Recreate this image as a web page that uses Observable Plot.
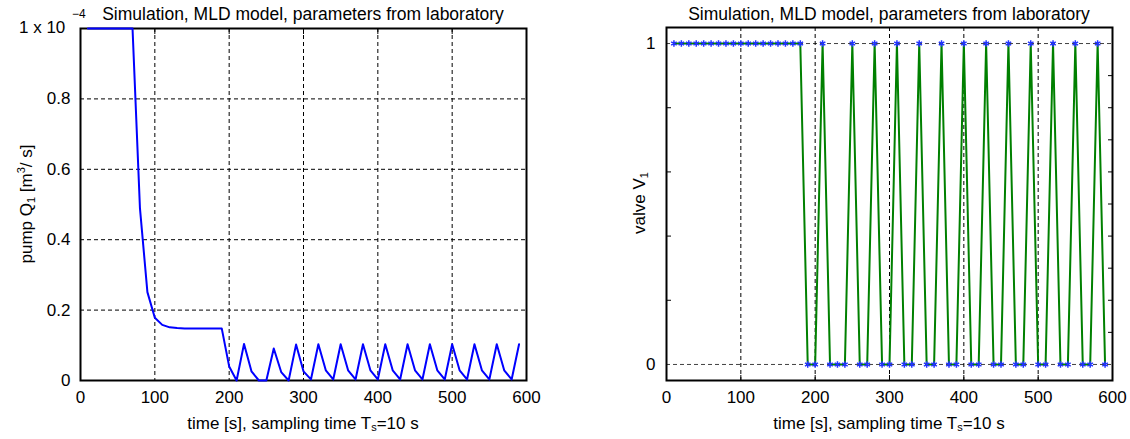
<!DOCTYPE html>
<html><head><meta charset="utf-8">
<script src="https://cdn.jsdelivr.net/npm/d3@7"></script>
<script src="https://cdn.jsdelivr.net/npm/@observablehq/plot@0.6"></script>
<style>
html,body{margin:0;padding:0;background:#fff;}
#wrap{position:relative;width:1130px;height:439px;font-family:"Liberation Sans",Arial,sans-serif;color:#000;overflow:hidden;background:#fff}
.t{position:absolute;white-space:nowrap;font-size:17px;line-height:17px}
.t sub,.t sup{line-height:0;font-size:11px}
#wrap svg{position:absolute;top:0}
</style></head><body><div id="wrap"></div>
<script>
// time axis (s), sampling time 10 s
const time = [10,20,30,40,50,60,70,80,90,100,110,120,130,140,150,160,170,180,190,200,
  210,220,230,240,250,260,270,280,290,300,310,320,330,340,350,360,370,380,390,400,
  410,420,430,440,450,460,470,480,490,500,510,520,530,540,550,560,570,580,590];
// pump Q1 (x 1e-4 m^3/s)
const pump = [1,1,1,1,1,1,1,0.489,0.251,0.178,0.158,0.151,0.149,0.148,0.148,0.148,0.148,0.148,0.148,0.04,
  0,0.104,0.026,0,0,0.091,0.024,0,0.102,0.026,0.003,0.103,0.029,0.003,0.103,0.029,0.003,0.103,0.029,0.003,
  0.103,0.029,0.003,0.103,0.029,0.003,0.103,0.029,0.003,0.103,0.029,0.003,0.103,0.029,0.003,0.103,0.029,0.003,0.103];
// valve V1 (0/1)
const valve = [1,1,1,1,1,1,1,1,1,1,1,1,1,1,1,1,1,1,0,0,
  1,0,0,0,1,0,0,1,0,0,1,0,0,1,0,0,1,0,0,1,
  0,0,1,0,0,1,0,0,1,0,0,1,0,0,1,0,0,1,0];

const xTicks = [0,100,200,300,400,500,600];
const xGrid = [100,200,300,400,500];
const yTicksLeft = [0,0.2,0.4,0.6,0.8];
const yGridLeft = [0.2,0.4,0.6,0.8];
const yTicksRight = [0,1];
const yMinorRightL = [0.2,0.4,0.6,0.8];
const yMinorRightR = [0.1,0.2,0.3,0.4,0.5,0.6,0.7,0.8,0.9];
const titleText = "Simulation, MLD model, parameters from laboratory";

const pumpData = time.map((t,i)=>({t, q: pump[i]}));
const valveData = time.map((t,i)=>({t, v: valve[i]}));

const FONT = '"Liberation Sans", Arial, sans-serif';
const style = {fontFamily: FONT, fontSize: "17px", color: "black", background: "transparent", overflow: "visible"};
const dash = {stroke: "black", strokeWidth: 1, strokeDasharray: "4,3"};
const fmt = d => String(d);

const left = Plot.plot({
  width: 565, height: 439,
  marginLeft: 80, marginRight: 39, marginTop: 28, marginBottom: 59,
  style,
  x: {domain: [0, 600]},
  y: {domain: [0, 1]},
  marks: [
    Plot.ruleX(xGrid, dash),
    Plot.ruleY(yGridLeft, dash),
    Plot.axisX(xTicks, {tickSize: 0, tickPadding: 10, label: null, fontSize: 17, tickFormat: fmt}),
    Plot.axisX(xGrid, {anchor: "top", tickSize: -5, tickFormat: () => "", label: null}),
    Plot.axisY(yTicksLeft, {tickSize: 0, tickPadding: 10, label: null, fontSize: 17, tickFormat: fmt}),
    Plot.frame({stroke: "black", strokeWidth: 2}),
    Plot.line(pumpData, {x: "t", y: "q", stroke: "#0000ff", strokeWidth: 2})
  ]
});

const right = Plot.plot({
  width: 565, height: 439,
  marginLeft: 101, marginRight: 18, marginTop: 27, marginBottom: 59,
  style,
  x: {domain: [0, 600]},
  y: {domain: [-0.05, 1.05]},
  marks: [
    Plot.ruleX(xGrid, dash),
    Plot.ruleY(yTicksRight, {...dash, strokeOpacity: 0.75}),
    Plot.axisX(xTicks, {tickSize: 0, tickPadding: 10, label: null, fontSize: 17, tickFormat: fmt}),
    Plot.axisX(xGrid, {anchor: "bottom", tickSize: -5, tickFormat: () => "", label: null}),
    Plot.axisY(yTicksRight, {tickSize: 0, tickPadding: 11, label: null, fontSize: 17, tickFormat: fmt}),
    Plot.axisY(yMinorRightL, {anchor: "left", tickSize: -5, tickFormat: () => "", label: null}),
    Plot.axisY(yMinorRightR, {anchor: "right", tickSize: -5, tickFormat: () => "", label: null}),
    Plot.frame({stroke: "black", strokeWidth: 2}),
    Plot.line(valveData, {x: "t", y: "v", stroke: "#008000", strokeWidth: 2}),
    Plot.dot(valveData, {x: "t", y: "v", symbol: "asterisk", r: 3, stroke: "#2233ff", strokeWidth: 1.5})
  ]
});

const wrap = document.getElementById("wrap");
left.style.left = "0px";
right.style.left = "565px";
wrap.appendChild(left);
wrap.appendChild(right);

function addText(html, css) {
  const d = document.createElement("div");
  d.className = "t";
  d.innerHTML = html;
  Object.assign(d.style, css);
  wrap.appendChild(d);
  return d;
}
// titles
addText(titleText, {left: "303px", top: "6px", fontSize: "17.5px", transform: "translateX(-50%)"});
addText(titleText, {left: "889px", top: "6px", fontSize: "17.5px", transform: "translateX(-50%)"});
// x labels
const xl = 'time [s], sampling time T<sub style="font-size:11px;vertical-align:-2px">s</sub>=10 s';
addText(xl, {left: "303px", top: "415px", transform: "translateX(-50%)"});
addText(xl, {left: "889px", top: "415px", transform: "translateX(-50%)"});
// y labels
addText('pump Q<sub style="vertical-align:-3px">1</sub> [m<sup style="vertical-align:7px">3</sup>/ s]',
  {left: "26px", top: "204px", transform: "translate(-50%,-50%) rotate(-90deg)"});
addText('valve V<sub style="vertical-align:-3px">1</sub>',
  {left: "639px", top: "203px", transform: "translate(-50%,-50%) rotate(-90deg)"});
// exponent label at top of left axis
addText('1 x 10', {left: "19px", top: "19px"});
addText('\u22124', {left: "72px", top: "8px", fontSize: "12px", lineHeight: "12px"});
</script>
</body></html>
